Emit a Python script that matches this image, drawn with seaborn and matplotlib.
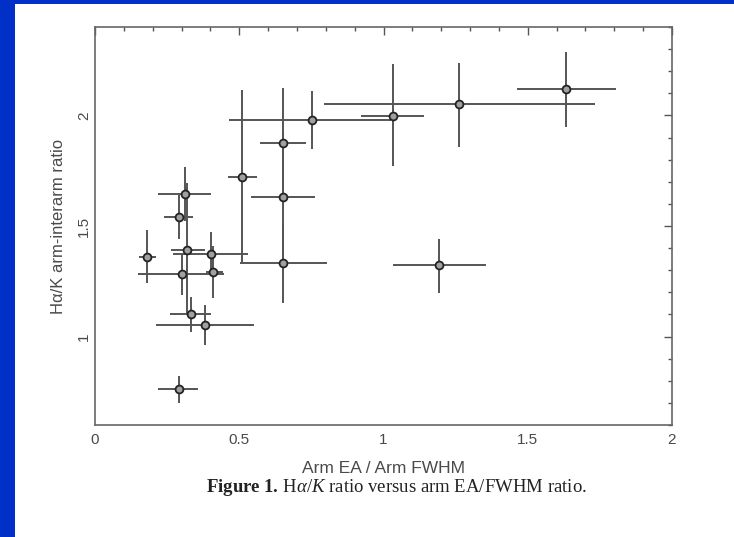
import matplotlib
matplotlib.use("Agg")
import matplotlib.pyplot as plt
import seaborn as sns
import pandas as pd
import numpy as np
from matplotlib.patches import Rectangle
from matplotlib.ticker import MultipleLocator

# ---- data ----
ea_fwhm   = [1.633, 1.262, 1.033, 0.752, 1.192, 0.510, 0.652, 0.652, 0.652, 0.312,
             0.291, 0.180, 0.319, 0.402, 0.409, 0.302, 0.333, 0.381, 0.291]
ha_k      = [2.120, 2.052, 1.997, 1.979, 1.323, 1.721, 1.875, 1.631, 1.332, 1.644,
             1.540, 1.359, 1.391, 1.373, 1.291, 1.282, 1.101, 1.052, 0.762]
ea_low    = [1.463, 0.794, 0.922, 0.465, 1.033, 0.461, 0.572, 0.541, 0.503, 0.218,
             0.239, 0.153, 0.263, 0.270, 0.385, 0.149, 0.260, 0.211, 0.218]
ea_high   = [1.806, 1.733, 1.140, 1.026, 1.355, 0.562, 0.731, 0.763, 0.804, 0.402,
             0.340, 0.211, 0.381, 0.530, 0.444, 0.447, 0.402, 0.551, 0.357]
hak_low   = [1.948, 1.857, 1.771, 1.848, 1.196, 1.332, 1.625, 1.331, 1.151, 1.524,
             1.440, 1.242, 1.106, 1.272, 1.174, 1.187, 1.020, 0.961, 0.699]
hak_high  = [2.287, 2.237, 2.233, 2.110, 1.441, 2.115, 2.124, 1.931, 1.510, 1.766,
             1.640, 1.481, 1.694, 1.472, 1.410, 1.373, 1.178, 1.142, 0.821]

x_ticks = [0, 0.5, 1, 1.5, 2]
x_tick_labels = ["0", "0.5", "1", "1.5", "2"]
y_ticks = [1, 1.5, 2]
y_tick_labels = ["1", "1.5", "2"]

df = pd.DataFrame({"x": ea_fwhm, "y": ha_k})

sns.set_style("white")
plt.rcParams["font.family"] = ["Liberation Sans", "DejaVu Sans"]
plt.rcParams["mathtext.fontset"] = "custom"
plt.rcParams["mathtext.rm"] = "Liberation Serif"
plt.rcParams["mathtext.it"] = "Liberation Serif:italic"
plt.rcParams["mathtext.bf"] = "Liberation Serif:bold"

W, H = 734, 537
BLUE = "#0030c8"
fig = plt.figure(figsize=(W / 100, H / 100), dpi=100)
fig.patch.set_facecolor("white")
# blue frame: left strip and top strip
fig.patches.append(Rectangle((0, 0), 15 / W, 1, transform=fig.transFigure,
                             facecolor=BLUE, edgecolor="none"))
fig.patches.append(Rectangle((0, 1 - 4 / H), 1, 4 / H, transform=fig.transFigure,
                             facecolor=BLUE, edgecolor="none"))

ax = fig.add_axes([95 / W, 1 - 425 / H, (672 - 95) / W, (425 - 27) / H])
ax.set_facecolor("white")

xerr = np.array([np.array(ea_fwhm) - np.array(ea_low), np.array(ea_high) - np.array(ea_fwhm)])
yerr = np.array([np.array(ha_k) - np.array(hak_low), np.array(hak_high) - np.array(ha_k)])
ax.errorbar(df["x"], df["y"], xerr=xerr, yerr=yerr, fmt="none",
            ecolor="#555555", elinewidth=1.4, capsize=0, zorder=2)
sns.scatterplot(data=df, x="x", y="y", ax=ax, s=32, marker="o",
                facecolor="#a0a0a0", edgecolor="#222222", linewidth=1.3, zorder=3)

ax.set_xlim(0, 2)
ax.set_ylim(0.6, 2.4)
ax.set_xticks(x_ticks)
ax.set_xticklabels(x_tick_labels)
ax.set_yticks(y_ticks)
ax.set_yticklabels(y_tick_labels, rotation=90, va="center")
ax.xaxis.set_minor_locator(MultipleLocator(0.1))
ax.yaxis.set_minor_locator(MultipleLocator(0.1))
ax.tick_params(which="both", direction="in", top=True, right=True,
               color="#555555", width=1.0, labelcolor="#4a4a4a", labelsize=11)
ax.tick_params(which="major", length=6, pad=6)
ax.tick_params(axis="y", which="major", pad=3)
ax.tick_params(which="minor", length=3)
for s in ax.spines.values():
    s.set_visible(True)
    s.set_color("#666666")
    s.set_linewidth(1.2)

ax.set_xlabel("Arm EA / Arm FWHM", fontsize=12.5, color="#4a4a4a", labelpad=10)
ax.set_ylabel("Hα/K arm-interarm ratio", fontsize=12, color="#4a4a4a", labelpad=8)

fig.text(397 / W, 1 - 488 / H,
         r"$\mathbf{Figure\ 1.}\,$H$\mathit{\alpha}$/$\mathit{K}$ ratio versus arm EA/FWHM ratio.",
         ha="center", va="center", fontsize=13.5, color="#222222",
         family="Liberation Serif")

fig.savefig("out.png", dpi=100, facecolor=fig.get_facecolor())
